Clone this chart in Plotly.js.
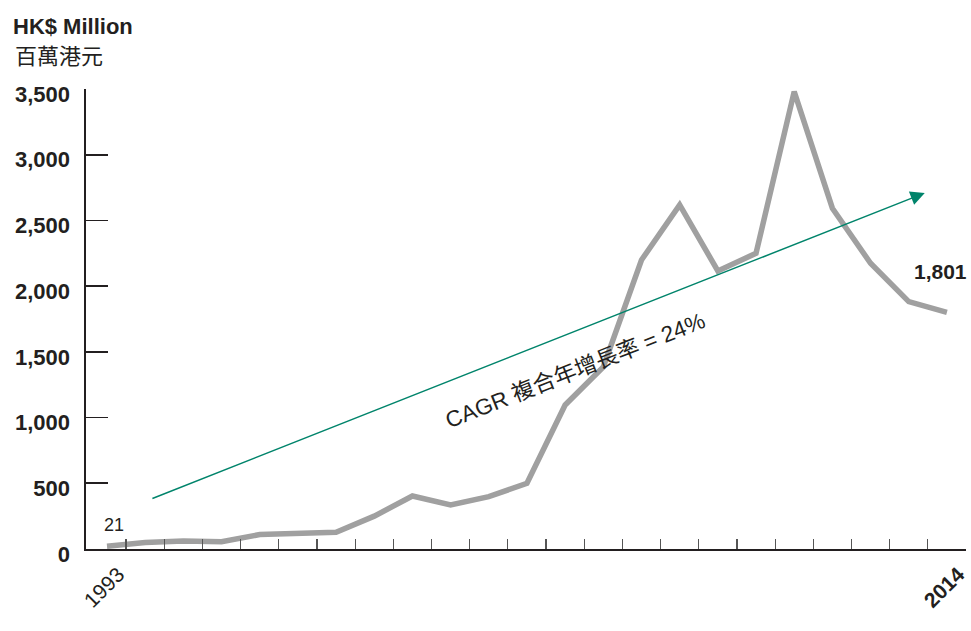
<!DOCTYPE html>
<html>
<head>
<meta charset="utf-8">
<script src="https://cdn.plot.ly/plotly-3.0.1.min.js"></script>
<style>
  html, body { margin: 0; padding: 0; background: #ffffff; }
  #chart { width: 971px; height: 631px; }
</style>
</head>
<body>
<div id="chart"></div>
<script>
// ---- data ----
const pointIndex = [0,1,2,3,4,5,6,7,8,9,10,11,12,13,14,15,16,17,18,19,20,21,22];
const values = [21, 50, 60, 55, 110, 120, 127, 250, 403, 335, 398, 500,
                1096, 1385, 2199, 2618, 2116, 2250, 3480, 2593, 2174, 1882, 1801];
const yTickVals = [0, 500, 1000, 1500, 2000, 2500, 3000, 3500];
const yTickText = ['0', '500', '1,000', '1,500', '2,000', '2,500', '3,000', '3,500'];
const xLabelPos = [0.3, 22.3];
const xLabelText = ['1993', '<b>2014</b>'];
const trendStart = [1.15, 380];
const trendEnd = [21.42, 2709];
const cagrText = 'CAGR 複合年增長率 = 24%';
const unitEn = 'HK$ Million';
const unitZh = '百萬港元';

// boundaries between points carry the small x-axis ticks
const boundaryTicks = pointIndex.map(i => i + 0.5);

const INK = '#231f20';
const FONT = 'Liberation Sans, Arial, Noto Sans CJK TC, sans-serif';
const CJK = 'Liberation Sans, Noto Sans CJK TC, sans-serif';
const xRange = [-0.55, 22.5];

const fmt = v => v.toLocaleString('en-US');

const trace = {
  x: pointIndex,
  y: values,
  type: 'scatter',
  mode: 'lines',
  line: { color: '#a0a0a0', width: 5.5 },
  hoverinfo: 'skip',
  showlegend: false
};

// invisible trace to activate the label axis
const labelTrace = {
  x: pointIndex, y: values, xaxis: 'x2', yaxis: 'y',
  type: 'scatter', mode: 'lines', line: { width: 0 }, opacity: 0,
  hoverinfo: 'skip', showlegend: false
};

const last = values.length - 1;
// plot area: 86..966 px wide, 89..549 px tall
const PW = 880, PH = 460;

const layout = {
  width: 971,
  height: 631,
  paper_bgcolor: '#ffffff',
  plot_bgcolor: '#ffffff',
  margin: { l: 86, r: 5, t: 89, b: 82 },
  font: { family: FONT, color: INK },
  title: {
    text: '<b>' + unitEn + '</b>',
    font: { family: FONT, size: 22, color: INK },
    xref: 'container', yref: 'container',
    x: 13 / 971, xanchor: 'left',
    y: 1 - 26 / 631, yanchor: 'middle'
  },
  xaxis: {
    range: xRange,
    showgrid: false, zeroline: false,
    showline: true, linecolor: INK, linewidth: 1.6,
    tickmode: 'array', tickvals: boundaryTicks,
    ticks: 'inside', ticklen: 10, tickwidth: 1.2, tickcolor: '#555',
    showticklabels: false,
    fixedrange: true
  },
  xaxis2: {
    overlaying: 'x', matches: 'x', anchor: 'y', side: 'bottom',
    range: xRange,
    showgrid: false, zeroline: false, showline: false,
    tickmode: 'array', tickvals: xLabelPos, ticktext: xLabelText,
    ticks: '', tickangle: -45,
    ticklabeloverflow: 'allow',
    ticklabelstandoff: 8,
    tickfont: { family: FONT, size: 21, color: INK },
    fixedrange: true
  },
  yaxis: {
    range: [0, 3500],
    showgrid: false, zeroline: false,
    showline: true, linecolor: INK, linewidth: 1.6,
    tickmode: 'array', tickvals: yTickVals, ticktext: yTickText,
    ticks: 'inside', ticklen: 22, tickwidth: 1.6, tickcolor: INK,
    tickfont: { family: FONT, size: 22, color: INK, weight: 'bold' },
    ticklabelstandoff: 10,
    ticklabelshift: 5,
    fixedrange: true
  },
  annotations: [
    {
      xref: 'paper', yref: 'paper',
      x: (13 - 86) / PW, xanchor: 'left',
      y: (549 - 57) / PH, yanchor: 'middle',
      text: unitZh, showarrow: false,
      font: { family: CJK, size: 22, color: INK }
    },
    {
      x: trendEnd[0], y: trendEnd[1],
      ax: trendStart[0], ay: trendStart[1],
      xref: 'x', yref: 'y', axref: 'x', ayref: 'y',
      text: '', showarrow: true,
      arrowhead: 2, arrowsize: 1.9, arrowwidth: 1.5,
      arrowcolor: '#00846b', standoff: 0, startstandoff: 0
    },
    {
      x: 12.28, y: 1355, xref: 'x', yref: 'y',
      text: cagrText, showarrow: false, textangle: -21.6,
      font: { family: CJK, size: 22.5, color: INK }
    },
    {
      x: pointIndex[0], y: values[0], xref: 'x', yref: 'y',
      text: String(values[0]), showarrow: false,
      xshift: 7, yshift: 21,
      font: { family: FONT, size: 18, color: INK }
    },
    {
      x: pointIndex[last], y: values[last], xref: 'x', yref: 'y',
      text: '<b>' + fmt(values[last]) + '</b>', showarrow: false,
      xshift: -6, yshift: 41,
      font: { family: FONT, size: 21, color: INK }
    }
  ]
};

Plotly.newPlot('chart', [trace, labelTrace], layout, { displayModeBar: false, staticPlot: true });
</script>
</body>
</html>
